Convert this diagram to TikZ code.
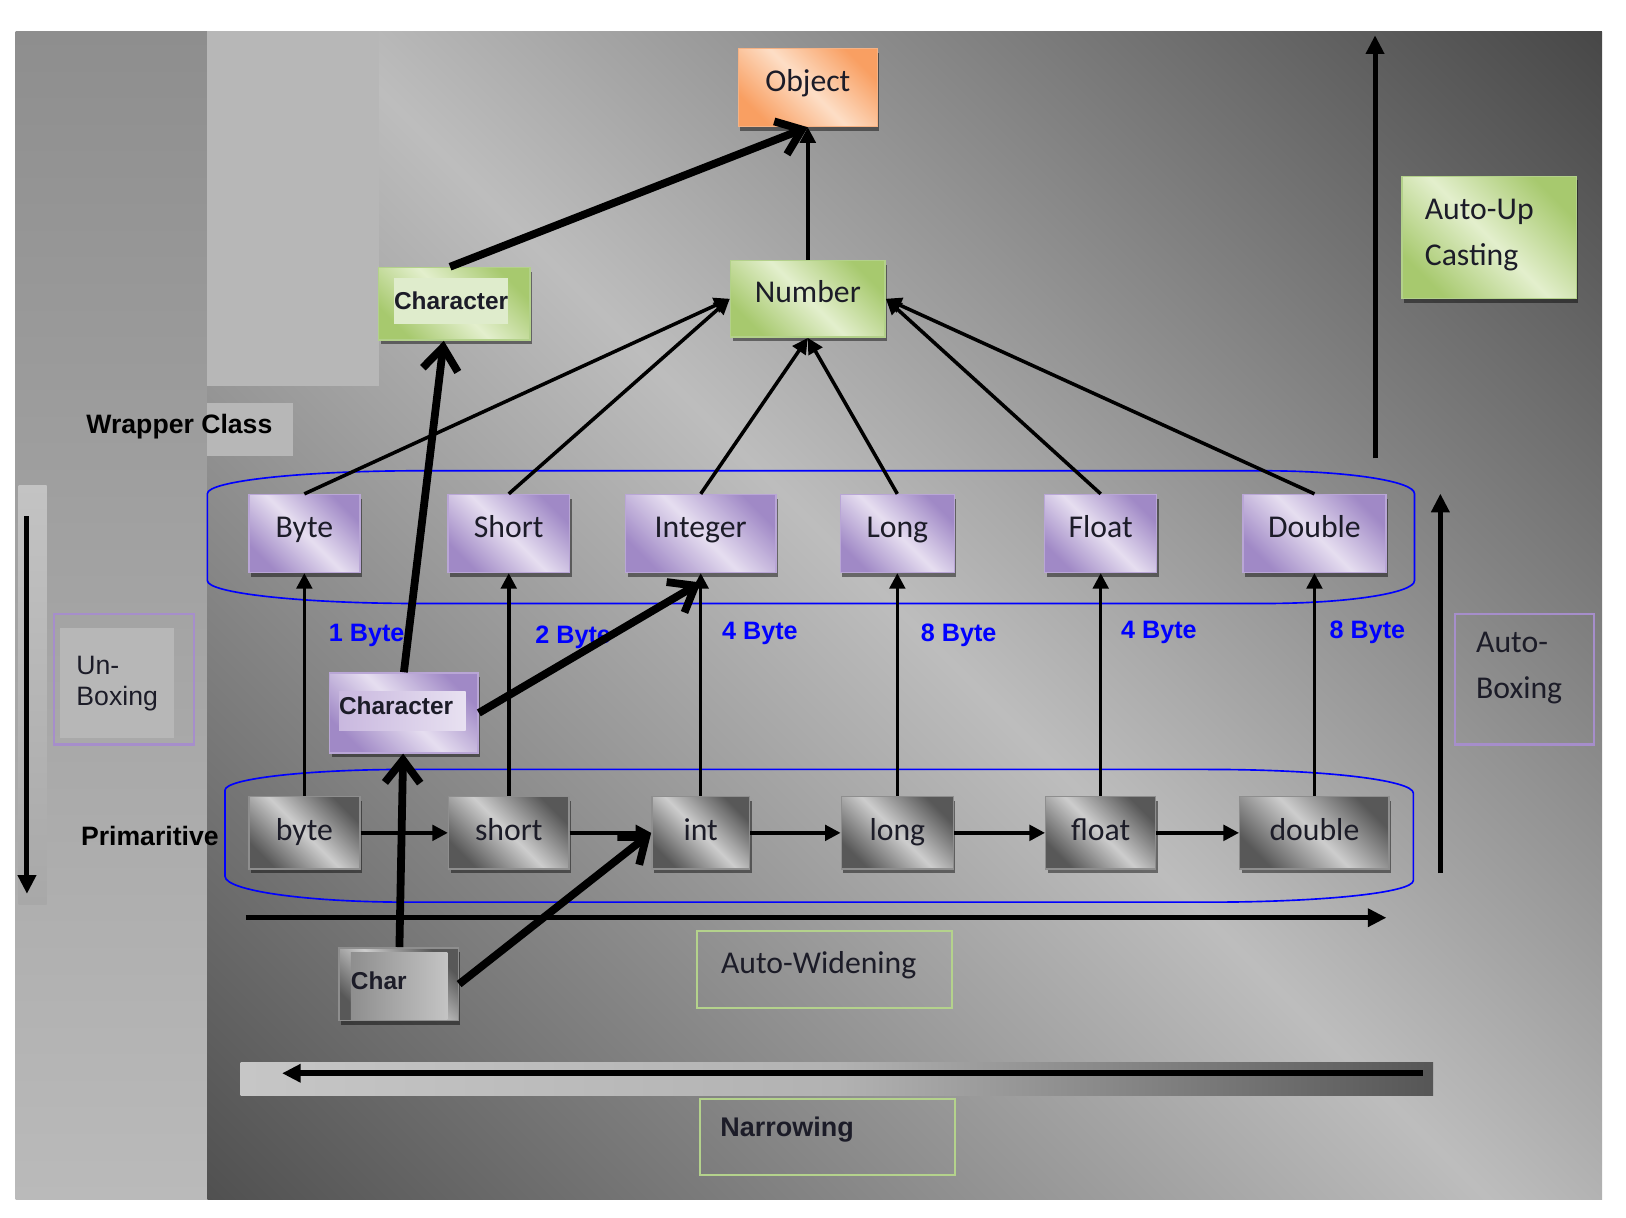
\documentclass[tikz,border=0pt]{standalone}
\usepackage{fontspec}
\setmainfont{Carlito}
\newfontfamily\arialfont{Liberation Sans}
\usetikzlibrary{arrows.meta,shadows}

\definecolor{purpdark}{HTML}{A089C6}
\definecolor{purplight}{HTML}{E6DEF0}
\definecolor{purpline}{HTML}{B9A6D6}
\definecolor{purppatchL}{HTML}{C9B8DF}
\definecolor{purppatchR}{HTML}{E8E1F1}
\definecolor{greendark}{HTML}{A7C96E}
\definecolor{greenlight}{HTML}{E3EFCD}
\definecolor{greenline}{HTML}{B3D18A}
\definecolor{greenpatch}{HTML}{DFECCC}
\definecolor{orangedark}{HTML}{F99F62}
\definecolor{orangelight}{HTML}{FDDEC6}
\definecolor{orangeline}{HTML}{F6B284}
\definecolor{graydark}{HTML}{585858}
\definecolor{graylight}{HTML}{CDCDCD}
\definecolor{grayline}{HTML}{8E8E8E}
\definecolor{charpatchL}{HTML}{8E8E8E}
\definecolor{charpatchR}{HTML}{C4C4C4}
\definecolor{bgdarkTR}{HTML}{474747}
\definecolor{bgdarkBL}{HTML}{505050}
\definecolor{bglight}{HTML}{BDBDBD}
\definecolor{bgpatch}{HTML}{B7B7B7}
\definecolor{sidetop}{HTML}{8E8E8E}
\definecolor{sidebottom}{HTML}{BABABA}
\definecolor{striptop}{HTML}{C3C3C3}
\definecolor{stripbottom}{HTML}{A8A8A8}
\definecolor{barleft}{HTML}{C6C6C6}
\definecolor{barmid}{HTML}{B2B2B2}
\definecolor{barright}{HTML}{565656}
\definecolor{unpatch}{HTML}{B7B7B7}
\definecolor{labelink}{HTML}{1C1C28}
\definecolor{sizeblue}{HTML}{0000FF}
\definecolor{notepurple}{HTML}{A68ECB}
\definecolor{notegreen}{HTML}{B4D28C}

\begin{document}
\begin{tikzpicture}[
        x=0.01cm, y=-0.01cm,
        every node/.style={text=labelink},
        tile/.style={rectangle, draw=#1, line width=0.4pt, inner sep=0pt,
            font=\fontsize{8.7}{10}\selectfont,
            drop shadow={shadow xshift=0.02cm, shadow yshift=-0.04cm, fill=black, opacity=0.45}},
        wrapbox/.style={tile=purpline, minimum height=0.75cm, text height=0.22cm, text depth=0.15cm,
            top color=purpdark, bottom color=purpdark, middle color=purplight, shading angle=-45},
        primbox/.style={tile=grayline, minimum height=0.7cm, text height=0.22cm, text depth=0.08cm,
            top color=graydark, bottom color=graydark, middle color=graylight, shading angle=-45},
        greenbox/.style={tile=greenline, text height=0.22cm, text depth=0.15cm,
            top color=greendark, bottom color=greendark, middle color=greenlight, shading angle=-45},
        objbox/.style={tile=orangeline, text height=0.22cm, text depth=0.15cm,
            top color=orangedark, bottom color=orangedark, middle color=orangelight, shading angle=-45},
        notebox/.style={rectangle, draw=#1, line width=0.6pt, inner sep=0pt},
        notetext/.style={align=left, inner sep=0pt, font=\fontsize{8.7}{12.5}\selectfont},
        patch/.style={inner sep=0pt, align=left, font=\arialfont\bfseries\fontsize{6.7}{8}\selectfont},
        caption/.style={inner sep=0pt, text=black, font=\arialfont\bfseries\fontsize{7.3}{9}\selectfont},
        sizelabel/.style={anchor=west, inner sep=0pt, xshift=#1, text=sizeblue,
            font=\arialfont\bfseries\fontsize{6.9}{8}\selectfont},
        line/.style={draw, line width=0.034cm, -{Triangle[length=0.15cm, width=0.15cm]}},
        heavy/.style={draw, line width=0.075cm, -{Straight Barb[length=0.22cm, width=0.34cm, sharp]}},
        bigarrow/.style={draw, line width=0.048cm, -{Triangle[length=0.18cm, width=0.17cm]}},
        enclose/.style={draw=sizeblue, line width=0.45pt}
    ]
    % backdrop
    \useasboundingbox (0,0) rectangle (1568,1174);
    \fill [white] (0,0) rectangle (1568,1174);
    \shade [top color=sidetop, bottom color=sidebottom] (15,30) rectangle (200,1157);
    \begin{scope}
        \clip (200,30) rectangle (1545,1157);
        \shade [transform canvas={rotate around={-45:(872,593)}},
            top color=bgdarkTR, bottom color=bgdarkBL, middle color=bglight]
            (-30,-281) rectangle (1774,1467);
    \end{scope}
    \fill [bgpatch] (200,30) rectangle (365,372);
    \fill [bgpatch] (200,389) rectangle (283,440);
    \shade [top color=striptop, bottom color=stripbottom] (18,468) rectangle (45,872);
    \shade [left color=barleft, right color=barright, middle color=barmid] (232,1025) rectangle (1382,1056);

    % groups
    \draw [enclose] (404,454) -- (1218,454) .. controls (1299,454) and (1364,464) .. (1364,476)
        -- (1364,560) .. controls (1364,572) and (1299,582) .. (1218,582)
        -- (404,582) .. controls (291,582) and (200,572) .. (200,560)
        -- (200,476) .. controls (200,464) and (291,454) .. (404,454) -- cycle;
    \draw [enclose] (393,742) -- (1165,742) .. controls (1274,742) and (1363,752) .. (1363,765)
        -- (1363,849) .. controls (1363,861) and (1274,870) .. (1165,870)
        -- (393,870) .. controls (296,870) and (217,859) .. (217,845)
        -- (217,762) .. controls (217,751) and (296,742) .. (393,742) -- cycle;

    % wrapper classes
    \node [wrapbox, minimum width=1.07cm] (Byte) at (293.5,514.5) {Byte};
    \node [wrapbox, minimum width=1.17cm, right of=Byte, node distance=1.97cm] (Short) {Short};
    \node [wrapbox, minimum width=1.45cm, right of=Short, node distance=1.85cm] (Integer) {Integer};
    \node [wrapbox, minimum width=1.10cm, right of=Integer, node distance=1.895cm] (Long) {Long};
    \node [wrapbox, minimum width=1.08cm, right of=Long, node distance=1.96cm] (Float) {Float};
    \node [wrapbox, minimum width=1.38cm, right of=Float, node distance=2.06cm] (Double) {Double};

    % primitives
    \node [primbox, minimum width=1.07cm, below of=Byte, node distance=2.885cm] (byte) {byte};
    \node [primbox, minimum width=1.16cm, below of=Short, node distance=2.885cm] (short) {short};
    \node [primbox, minimum width=0.94cm, below of=Integer, node distance=2.885cm] (int) {int};
    \node [primbox, minimum width=1.08cm, below of=Long, node distance=2.885cm] (long) {long};
    \node [primbox, minimum width=1.06cm, below of=Float, node distance=2.885cm] (float) {float};
    \node [primbox, minimum width=1.44cm, below of=Double, node distance=2.885cm] (double) {double};

    % hierarchy
    \node [objbox, minimum width=1.34cm, minimum height=0.75cm] (Object) at (779,84.5) {Object};
    \node [greenbox, minimum width=1.49cm, minimum height=0.74cm, below of=Object, node distance=2.035cm] (Number) {Number};
    \node [greenbox, minimum width=1.46cm, minimum height=0.7cm,
        label={[patch, fill=greenpatch, minimum width=1.1cm, minimum height=0.44cm, xshift=-0.03cm, yshift=0.03cm]center:Character}]
        (CharG) at (438,293) {};
    \node [wrapbox, minimum width=1.43cm, minimum height=0.77cm,
        label={[patch, left color=purppatchL, right color=purppatchR, text width=1.22cm, minimum height=0.37cm,
            text height=0.17cm, text depth=0.1cm, xshift=-0.015cm, yshift=0.02cm]center:Character}]
        (CharP) at (389.5,687.5) {};
    \node [primbox, minimum width=1.15cm, minimum height=0.7cm,
        label={[patch, left color=charpatchL, right color=charpatchR, text width=0.93cm, minimum height=0.65cm,
            text height=0.17cm, text depth=0.1cm, xshift=0.005cm, yshift=-0.02cm]center:Char}]
        (Char) at (384.5,949) {};

    % notes
    \node [greenbox, minimum width=1.68cm, minimum height=1.18cm,
        label={[notetext, xshift=-0.095cm, yshift=0.025cm]center:Auto-Up\\Casting}] (AutoUp) at (1436,229) {};
    \node [notebox=notepurple, minimum width=1.35cm, minimum height=1.26cm,
        label={[notetext, fill=unpatch, minimum width=1.1cm, minimum height=1.06cm, xshift=-0.065cm, yshift=-0.04cm,
            font=\arialfont\fontsize{7.3}{8.6}\selectfont]center:Un-\\Boxing}] (UnBox) at (119.5,655) {};
    \node [notebox=notepurple, minimum width=1.34cm, minimum height=1.26cm,
        label={[notetext, xshift=-0.05cm, yshift=0.105cm]center:Auto-\\Boxing}] (AutoBox) at (1470,655) {};
    \node [notebox=notegreen, minimum width=2.46cm, minimum height=0.74cm,
        label={[notetext, xshift=-0.055cm, yshift=0.045cm]center:Auto-Widening}] (AutoWiden) at (795,935) {};
    \node [notebox=notegreen, minimum width=2.46cm, minimum height=0.73cm,
        label={[caption, text=labelink, xshift=-0.39cm, yshift=0.07cm, font=\arialfont\bfseries\fontsize{7.4}{9}\selectfont]center:Narrowing}]
        (Narrow) at (798,1096.5) {};
    \node [caption] (wrapperLbl) at (173,411) {Wrapper Class};
    \node [caption] (primLbl) at (144.5,806) {Primaritive};

    % free ends of the direction arrows
    \coordinate (upFoot) at (1326,442);
    \coordinate (upTip) at (1326,34);
    \coordinate (boxFoot) at (1389,842);
    \coordinate (boxTip) at (1389,476);
    \coordinate (unFoot) at (26,498);
    \coordinate (unTip) at (26,862);
    \coordinate (widenFoot) at (237,885);
    \coordinate (widenTip) at (1337,885);
    \coordinate (narrowFoot) at (1372,1035);
    \coordinate (narrowTip) at (272,1035);

    % boxing
    \path [line] (byte) -- node [sizelabel=0.22cm, pos=.72] {1 Byte} (Byte);
    \path [line] (short) -- node [sizelabel=0.24cm, pos=.71] {2 Byte} (Short);
    \path [line] (int) -- node [sizelabel=0.19cm, pos=.73] {4 Byte} (Integer);
    \path [line] (long) -- node [sizelabel=0.21cm, pos=.72] {8 Byte} (Long);
    \path [line] (float) -- node [sizelabel=0.18cm, pos=.735] {4 Byte} (Float);
    \path [line] (double) -- node [sizelabel=0.13cm, pos=.735] {8 Byte} (Double);

    % widening
    \path [line] (byte) -- (short);
    \path [line] (short) -- (int);
    \path [line] (int) -- (long);
    \path [line] (long) -- (float);
    \path [line] (float) -- (double);

    % up casting
    \path [line] (Byte.north) -- (Number.west);
    \path [line] (Short.north) -- (Number.west);
    \path [line] (Integer.north) -- (Number.south);
    \path [line] (Long.north) -- (Number.south);
    \path [line] (Float.north) -- (Number.east);
    \path [line] (Double.north) -- (Number.east);
    \path [line] (Number) -- (Object);

    % char
    \path [heavy] (Char) -- (CharP);
    \path [heavy] (Char.east) -- (int.west);
    \path [heavy] (CharP.east) -- ([yshift=-0.09cm]Integer.south);
    \path [heavy] (CharP.north) -- ([xshift=-0.1cm]CharG.south);
    \path [heavy] ([xshift=-0.04cm]CharG.north) -- (Object.south);

    % directions
    \path [bigarrow] (upFoot) -- (upTip);
    \path [bigarrow] (boxFoot) -- (boxTip);
    \path [bigarrow] (unFoot) -- (unTip);
    \path [bigarrow] (widenFoot) -- (widenTip);
    \path [bigarrow, line width=0.058cm] (narrowFoot) -- (narrowTip);
\end{tikzpicture}
\end{document}
